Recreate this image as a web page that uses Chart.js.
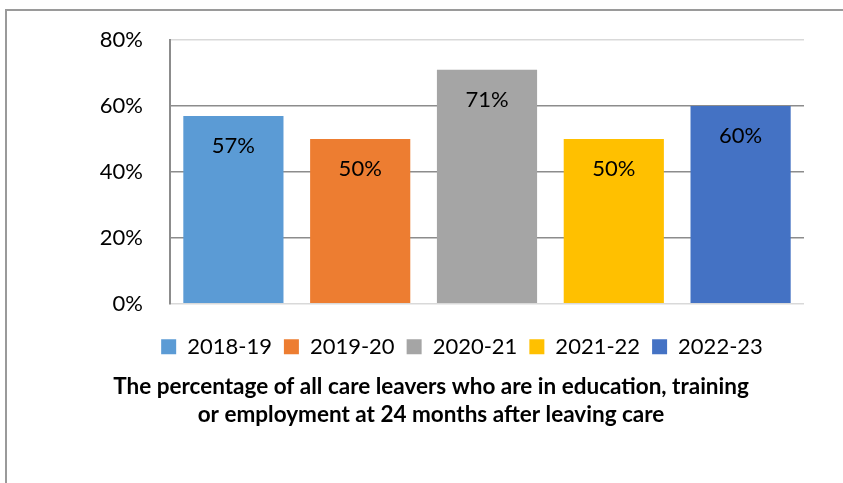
<!DOCTYPE html>
<html>
<head>
  <script src="https://cdn.jsdelivr.net/npm/chart.js@4.4.1/dist/chart.umd.min.js"></script>
  <style>
    body { margin: 0; background: #fff; overflow: hidden; }
    .frame { position: absolute; left: 5px; top: 9px; right: -10px; bottom: -10px;
             border-top: 2px solid #9a9a9a; border-left: 2px solid #9a9a9a; }
    #myChart { position: absolute; left: 0; top: 0; }
  </style>
</head>
<body>
  <div class="frame"></div>
  <canvas id="myChart" width="843" height="483"></canvas>

  <script>
    // values
    const years = ["2018-19", "2019-20", "2020-21", "2021-22", "2022-23"];
    const percentages = [57, 50, 71, 50, 60];
    const barColors = ["#5B9BD5", "#ED7D31", "#A5A5A5", "#FFC000", "#4472C4"];
    const yTicks = [0, 20, 40, 60, 80];
    const titleLines = [
      "The percentage of all care leavers who are in education, training",
      "or employment at 24 months after leaving care"
    ];

    const datasets = years.map((year, i) => ({
      label: year,
      data: [percentages[i]],
      backgroundColor: barColors[i],
      borderWidth: 0,
      categoryPercentage: 1,
      barPercentage: 0.79
    }));

    // value labels near the top inside each bar
    const valueLabels = {
      id: "valueLabels",
      afterDatasetsDraw(chart) {
        const ctx = chart.ctx;
        ctx.save();
        ctx.font = "22px Lato";
        ctx.fillStyle = "#000";
        ctx.textAlign = "center";
        ctx.textBaseline = "middle";
        chart.data.datasets.forEach((ds, i) => {
          const bar = chart.getDatasetMeta(i).data[0];
          ctx.fillText(ds.data[0] + "%", bar.x, bar.y + 30);
        });
        ctx.restore();
      }
    };

    // legend sits a bit right of the title in the original
    const legendShift = {
      id: "legendShift",
      afterLayout(chart) {
        chart.legend.left += 31;
        chart.legend.right += 31;
      }
    };

    new Chart("myChart", {
      type: "bar",
      data: { labels: [""], datasets: datasets },
      plugins: [valueLabels, legendShift],
      options: {
        responsive: false,
        animation: false,
        layout: { padding: { left: 58, right: 39, top: 39, bottom: 44 } },
        scales: {
          x: {
            ticks: { display: false },
            grid: { display: false },
            border: { display: false },
            afterFit: (scale) => { scale.height = 20; }
          },
          y: {
            min: 0,
            max: 80,
            afterFit: (scale) => { scale.width = 112; },
            afterBuildTicks: (scale) => { scale.ticks = yTicks.map(v => ({ value: v })); },
            ticks: {
              padding: 27,
              color: "#000",
              font: { family: "Lato", size: 22 },
              callback: (v) => v + "%"
            },
            grid: {
              drawTicks: false,
              lineWidth: 1.5,
              color: (c) => (c.tick && (c.tick.value === 0 || c.tick.value === 80)) ? "#d9d9d9" : "#8c8c8c"
            },
            border: { display: true, color: "#8c8c8c", width: 2 }
          }
        },
        plugins: {
          legend: {
            position: "bottom",
            labels: {
              boxWidth: 15,
              boxHeight: 15,
              padding: 12,
              color: "#000",
              font: { family: "Lato", size: 22 }
            }
          },
          title: {
            display: true,
            position: "bottom",
            text: titleLines,
            color: "#000",
            font: { family: "Lato", size: 22.5, weight: "bold", lineHeight: 1.25 },
            padding: { top: 5, bottom: 10 }
          },
          tooltip: { enabled: false }
        }
      }
    });
  </script>
</body>
</html>
